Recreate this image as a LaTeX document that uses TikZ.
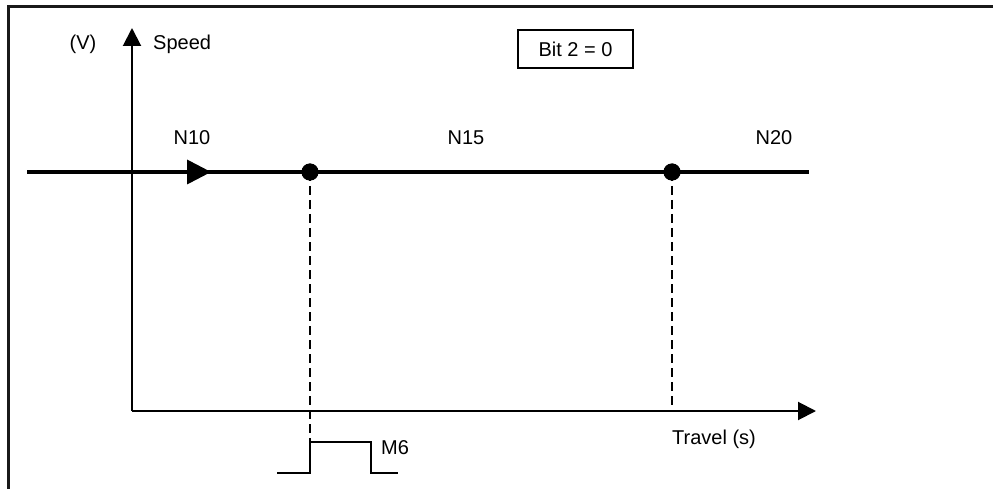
\documentclass[tikz,border=0pt]{standalone}
\usepackage{fontspec}
\setmainfont{Liberation Sans}
\usetikzlibrary{arrows.meta}
\begin{document}
\begin{tikzpicture}[x=1pt,y=-1pt,
  lbl/.style={font=\fontsize{20}{24}\selectfont, inner sep=0pt},
  axis/.style={line width=2pt, -{Triangle[length=18pt,width=18pt]}},
  border/.style={line width=3pt, color=black!90},
  speedline/.style={line width=4.5pt},
  dot/.style={circle, fill=black, inner sep=0pt, minimum size=17pt},
  guide/.style={line width=2pt, dash pattern=on 9pt off 5pt},
  pulse/.style={line width=2pt},
  bitbox/.style={draw, line width=2pt, minimum width=115pt, minimum height=38pt, font=\fontsize{20}{24}\selectfont, inner sep=0pt}
]
\useasboundingbox (0,0) rectangle (993,489);
% frame (top and left only)
\draw[border] (993,6.5) -- (8,6.5) -- (8,489);
% axes
\coordinate (O) at (132,411);
\coordinate (ytip) at (132,28);
\coordinate (xtip) at (816,411);
\draw[axis] (O) -- (ytip);
\draw[axis] (O) -- (xtip);
% labels
\node[lbl] (v) at (83,44) {(V)};
\node[lbl, anchor=west] (speed) at (153,44) {Speed};
\node[lbl, anchor=west] (travel) at (672,439) {Travel (s)};
\node[bitbox] (bit) at (575.5,49) {Bit 2 = 0};
\node[lbl] (n10) at (192,138) {N10};
\node[lbl] (n15) at (466,138) {N15};
\node[lbl] (n20) at (774,138) {N20};
% speed line
\coordinate (ls) at (27,172);
\coordinate (le) at (809,172);
\node[dot] (d1) at (310,172) {};
\node[dot] (d2) at (672,172) {};
\draw[speedline] (ls) -- (le);
\fill (187,159.5) -- (211,172) -- (187,184.5) -- cycle;
% guides
\coordinate (g1) at (310,442);
\coordinate (g2) at (672,411);
\draw[guide] (d1.center) -- (g1);
\draw[guide] (d2.center) -- (g2);
% M6 pulse
\coordinate (p0) at (277,473);
\coordinate (p5) at (398,473);
\draw[pulse] (p0) -- (310,473) -- (g1) -- (371,442) -- (371,473) -- (p5);
\node[lbl] (m6) at (395,448) {M6};
\node[dot] at (d1) {};
\node[dot] at (d2) {};
\end{tikzpicture}
\end{document}
